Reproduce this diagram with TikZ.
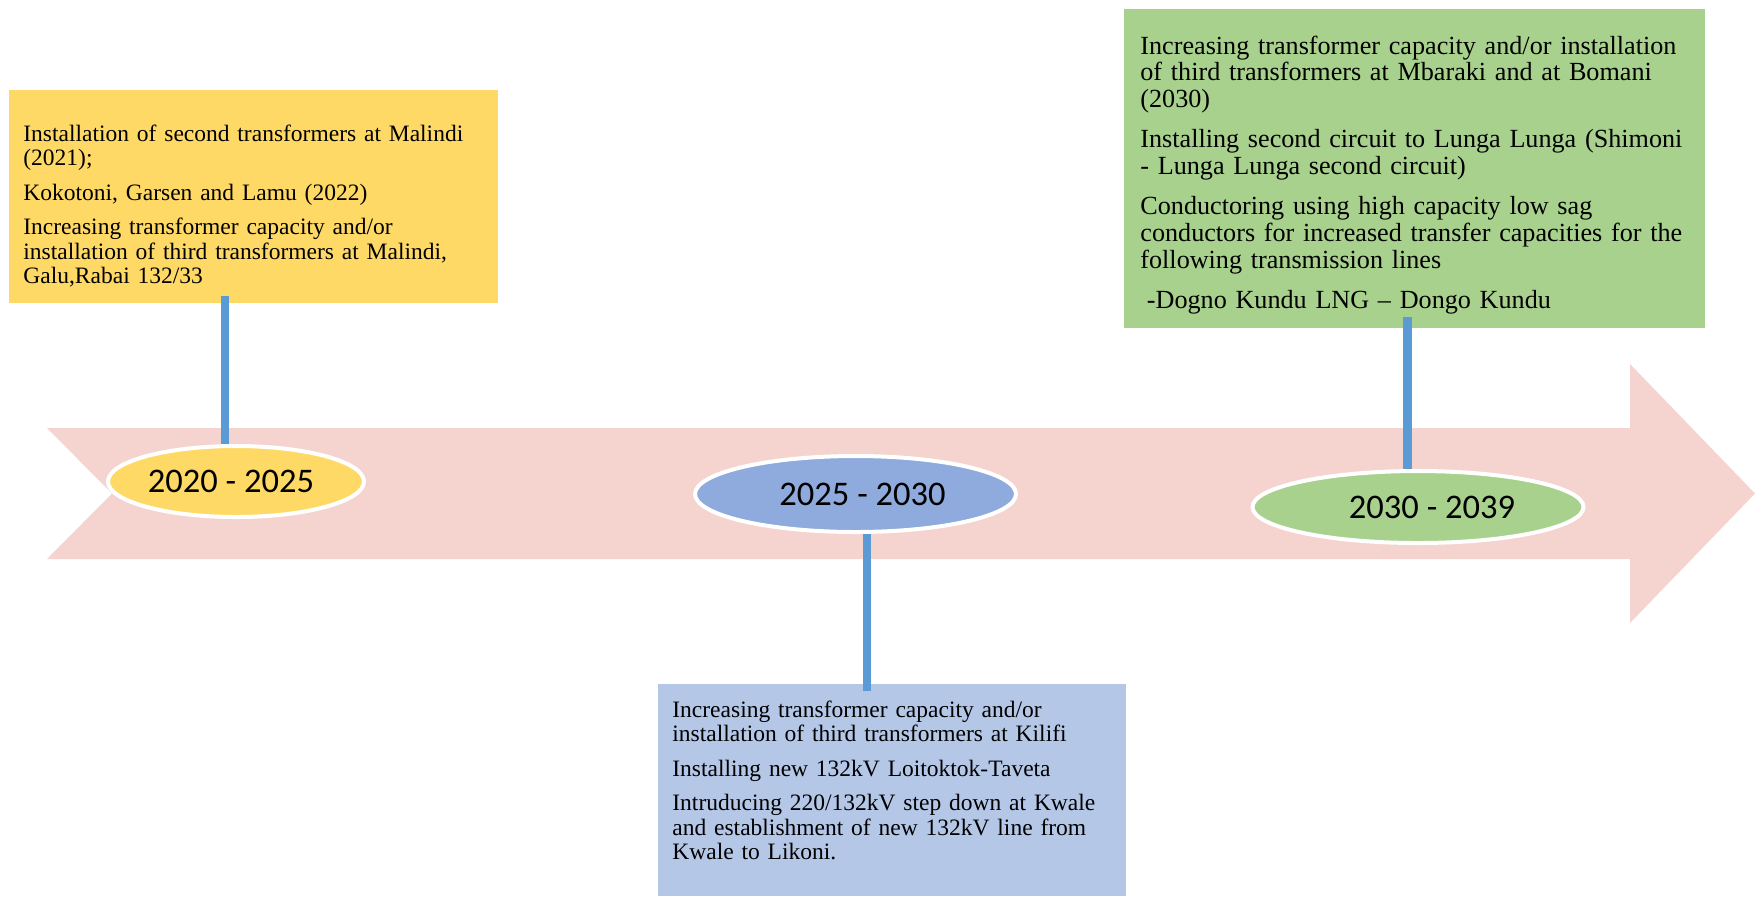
\documentclass[tikz,border=0pt]{standalone}
\usepackage{fontspec}
\setmainfont{Liberation Serif}
\newfontfamily\calib{Carlito}
\usetikzlibrary{shapes.geometric}
\definecolor{arrowpink}{HTML}{F5D3CE}
\definecolor{ygold}{HTML}{FFD966}
\definecolor{ggreen}{HTML}{A9D18E}
\definecolor{bboxc}{HTML}{B4C7E7}
\definecolor{bell}{HTML}{8FAADC}
\definecolor{connc}{HTML}{5B9BD5}
\begin{document}
\begin{tikzpicture}[x=0.5pt,y=-0.5pt,
  panel/.style={rectangle, inner sep=0pt, outer sep=0pt, anchor=north west},
  para/.style={anchor=base west, inner sep=0pt, text width=300pt, align=left},
  period/.style={ellipse, draw=white, line width=2pt, inner sep=0pt,
    font=\calib\fontsize{17.25pt}{20pt}\selectfont},
  connector/.style={draw=connc, line width=4.25pt}]
\useasboundingbox (0,0) rectangle (1755,896);
% timeline arrow
\fill[arrowpink] (47,428) -- (1630,428) -- (1630,364) -- (1755,493.5) -- (1630,623)
  -- (1630,559) -- (47,559) -- (112,493.5) -- cycle;
% boxes
\node[panel, fill=ygold, minimum width=244.5pt, minimum height=106.5pt] (yb) at (9,90) {};
\node[panel, fill=ggreen, minimum width=290.5pt, minimum height=159.5pt] (gb) at (1124,9) {};
\node[panel, fill=bboxc, minimum width=234pt, minimum height=106pt] (bb) at (658,684) {};
% texts
\node[para, font=\fontsize{11.75pt}{12.25pt}\selectfont] (yt) at (23,141) {Installation of second transformers at Malindi\\
(2021);\\[5pt]
Kokotoni, Garsen and Lamu (2022)\\[5pt]
Increasing transformer capacity and/or\\
installation of third transformers at Malindi,\\
Galu,Rabai 132/33};
\node[para, font=\fontsize{13.08pt}{13.4pt}\selectfont] (gt) at (1140,54) {Increasing transformer capacity and/or installation\\
of third transformers at Mbaraki and at Bomani\\
(2030)\\[6.6pt]
Installing second circuit to Lunga Lunga (Shimoni\\
- Lunga Lunga second circuit)\\[6.6pt]
Conductoring using high capacity low sag\\
conductors for increased transfer capacities for the\\
following transmission lines\\[6.6pt]
\hspace*{0.25em}-Dogno Kundu LNG – Dongo Kundu};
\node[para, font=\fontsize{11.75pt}{12.25pt}\selectfont] (bt) at (672,717) {Increasing transformer capacity and/or\\
installation of third transformers at Kilifi\\[5pt]
Installing new 132kV Loitoktok-Taveta\\[5pt]
Intruducing 220/132kV step down at Kwale\\
and establishment of new 132kV line from\\
Kwale to Likoni.};
% ellipse centres
\coordinate (e1c) at (236,481.5);
\coordinate (e2c) at (855.5,494);
\coordinate (e3c) at (1418,507);
% connectors
\coordinate (c1) at ([xshift=-14.25pt,yshift=3.5pt]yb.south);
\coordinate (c2) at ([xshift=-12.5pt,yshift=-3.5pt]bb.north);
\coordinate (c3) at ([xshift=-3.5pt,yshift=5.5pt]gb.south);
\draw[connector] (c1) -- (c1 |- e1c);
\draw[connector] (c2) -- (c2 |- e2c);
\draw[connector] (c3) -- (c3 |- e3c);
% period ellipses
\node[period, fill=ygold, minimum width=128pt, minimum height=35.5pt] (e1) at (e1c) {2020 - 2025\hspace*{5pt}};
\node[period, fill=bell, minimum width=160.5pt, minimum height=38pt] (e2) at (e2c) {\hspace*{7pt}2025 - 2030};
\node[period, fill=ggreen, minimum width=165.5pt, minimum height=36pt] (e3) at (e3c) {\hspace*{14pt}2030 - 2039};
\end{tikzpicture}
\end{document}
